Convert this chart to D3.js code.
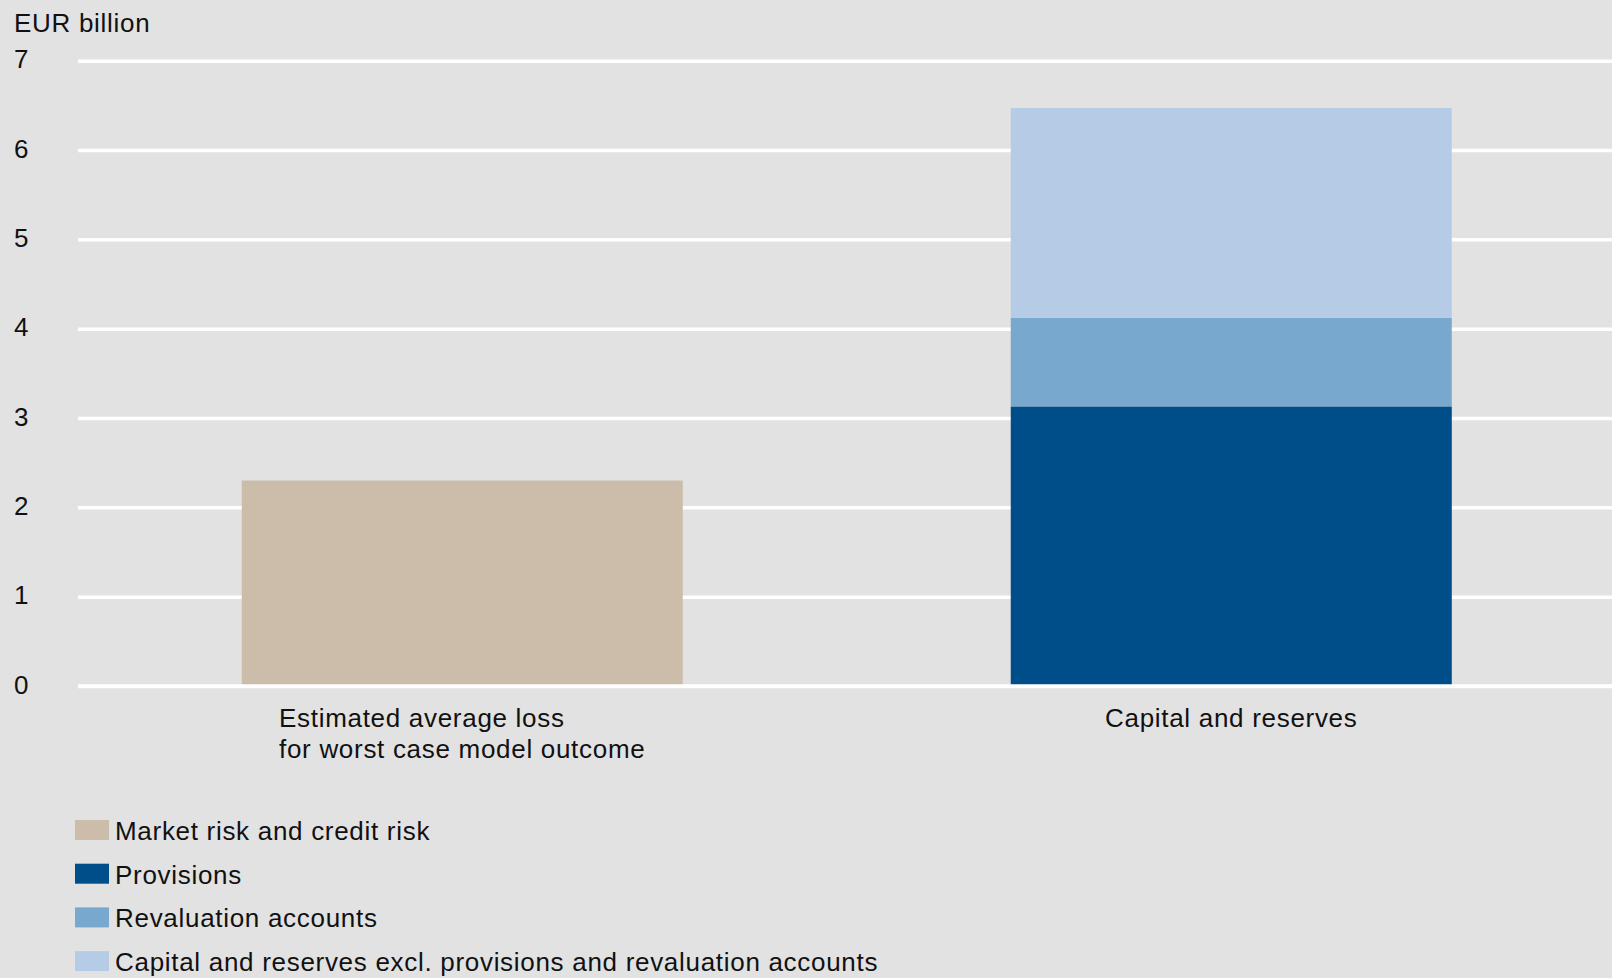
<!DOCTYPE html>
<html>
<head>
<meta charset="utf-8">
<script src="https://cdn.jsdelivr.net/npm/d3@7"></script>
<style>
  html, body { margin: 0; padding: 0; background: #e2e2e2; }
  svg { display: block; }
  text { font-family: "Liberation Sans", Arial, sans-serif; fill: #111; }
</style>
</head>
<body>
<svg id="chart" width="1612" height="978"></svg>
<script>
// Categories on the x axis (each label may span several lines)
const categories = ["loss", "capital"];
const categoryLabels = [
  ["Estimated average loss", "for worst case model outcome"],
  ["Capital and reserves"]
];

// Stack components, bottom to top, in EUR billion
const seriesNames = [
  "Market risk and credit risk",
  "Provisions",
  "Revaluation accounts",
  "Capital and reserves excl. provisions and revaluation accounts"
];
const marketCreditRisk = [2.30, 0];
const provisions = [0, 3.13];
const revaluationAccounts = [0, 0.99];
const otherCapital = [0, 2.35];

const yTicks = [0, 1, 2, 3, 4, 5, 6, 7];
const unitLabel = "EUR billion";

const colors = ["#ccbdab", "#004e89", "#79a8ce", "#b6cce6"];

const FONT = 26, SPACING = 0.7;

const svg = d3.select("#chart");
const W = 1612, H = 978;
svg.append("rect").attr("width", W).attr("height", H).attr("fill", "#e2e2e2");

const x = d3.scaleBand()
  .domain(categories)
  .range([78, 1615.5])
  .paddingInner(0.4265)
  .paddingOuter(0.2129);

const y = d3.scaleLinear().domain([0, 7]).range([686, 60.7]);

// Horizontal grid lines
const grid = d3.axisLeft(y)
  .tickValues(yTicks)
  .tickSize(-(W - 78))
  .tickFormat("");
svg.append("g")
  .attr("transform", "translate(78,0)")
  .call(grid)
  .call(g => g.select(".domain").remove())
  .call(g => g.selectAll(".tick line").attr("stroke", "#ffffff").attr("stroke-width", 3.5));

// Tick labels
svg.append("g").selectAll("text")
  .data(yTicks)
  .join("text")
  .attr("x", 14)
  .attr("y", d => y(d) + 7.6)
  .attr("font-size", FONT)
  .text(d => d);

svg.append("text")
  .attr("x", 14)
  .attr("y", 31.5)
  .attr("font-size", FONT)
  .attr("letter-spacing", SPACING)
  .text(unitLabel);

// Stacked bars
const rows = categories.map((c, i) => ({
  cat: c,
  s0: marketCreditRisk[i],
  s1: provisions[i],
  s2: revaluationAccounts[i],
  s3: otherCapital[i]
}));
const stack = d3.stack().keys(["s0", "s1", "s2", "s3"]);
const layers = stack(rows);

svg.append("g").selectAll("g")
  .data(layers)
  .join("g")
  .attr("fill", (d, i) => colors[i])
  .selectAll("rect")
  .data(d => d.filter(p => p[1] - p[0] > 0))
  .join("rect")
  .attr("x", d => x(d.data.cat))
  .attr("width", x.bandwidth())
  .attr("y", d => y(d[1]))
  .attr("height", d => y(d[0]) - y(d[1]));

// Baseline over the bar feet
svg.append("line")
  .attr("x1", 78).attr("x2", W)
  .attr("y1", y(0)).attr("y2", y(0))
  .attr("stroke", "#ffffff").attr("stroke-width", 3.5);

// Category labels, left-aligned block centred under each bar
categories.forEach((c, i) => {
  const g = svg.append("g");
  const lines = categoryLabels[i];
  const texts = g.selectAll("text")
    .data(lines)
    .join("text")
    .attr("font-size", FONT)
    .attr("letter-spacing", SPACING)
    .attr("y", (d, j) => y(0) + 41 + j * 30.7)
    .text(d => d);
  let maxW = 0;
  texts.each(function () { maxW = Math.max(maxW, this.getComputedTextLength()); });
  const cx = x(c) + x.bandwidth() / 2;
  texts.attr("x", cx - maxW / 2);
});

// Legend
const legend = svg.append("g").selectAll("g")
  .data(seriesNames)
  .join("g")
  .attr("transform", (d, i) => `translate(75, ${840 + i * 43.7})`);
legend.append("rect")
  .attr("x", 0).attr("y", -20)
  .attr("width", 34).attr("height", 20)
  .attr("fill", (d, i) => colors[i]);
legend.append("text")
  .attr("x", 40).attr("y", 0)
  .attr("font-size", FONT)
  .attr("letter-spacing", SPACING)
  .text(d => d);
</script>
</body>
</html>
